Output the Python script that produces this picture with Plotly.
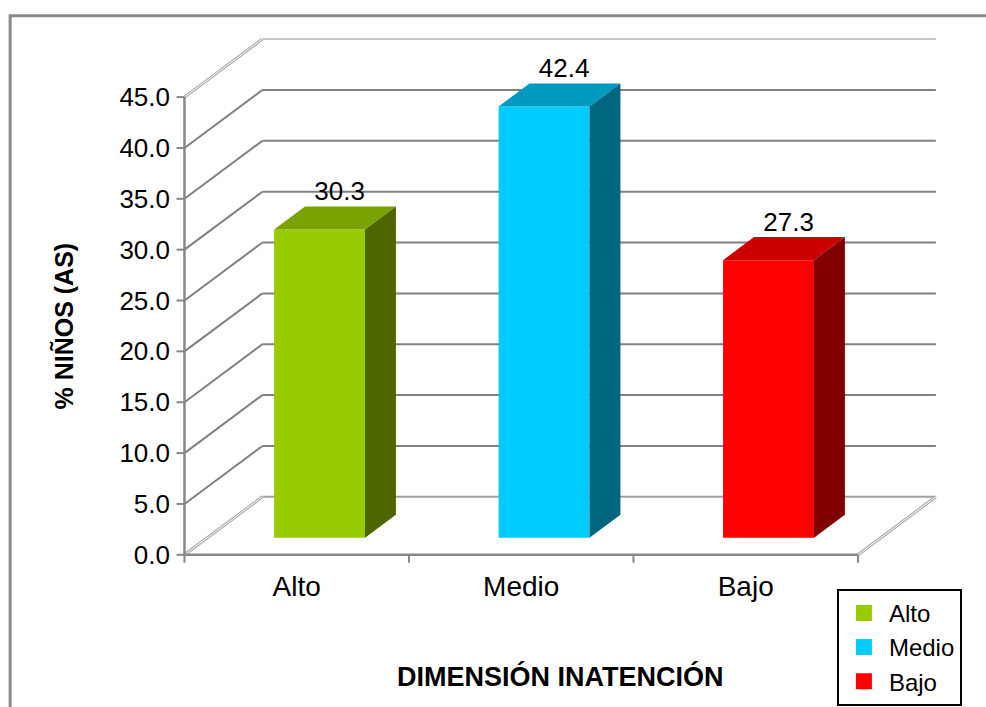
import plotly.graph_objects as go

# ---------------- data ----------------
categories = ["Alto", "Medio", "Bajo"]
values = [30.3, 42.4, 27.3]
front_colors = ["#99CC00", "#00CCFF", "#FF0000"]
top_colors = ["#7AA300", "#0099BF", "#CC0000"]
side_colors = ["#4D6600", "#006680", "#800000"]
y_ticks = [0, 5, 10, 15, 20, 25, 30, 35, 40, 45]
y_ticklabels = [f"{v:.1f}" for v in y_ticks]
x_title = "DIMENSIÓN INATENCIÓN"
y_title = "% NIÑOS (AS)"

# ---------------- 3D geometry (axis units) ----------------
N = len(categories)
YMAX = y_ticks[-1]
DEPTH_X = 0.347      # depth offset in category units
DEPTH_Y = 5.70       # depth offset in value units
BAR_W = 0.405
F1, F2 = 0.293, 0.69  # depth fraction of bar front/back
X_RANGE = [-0.06, N + 0.37]
Y_RANGE = [-1.2, 51.4]

W, H = 986, 707
L, R, T, B = 170.5, 941.2, 31.7, 567.2
PX_X = (R - L) / (X_RANGE[1] - X_RANGE[0])
PX_Y = (B - T) / (Y_RANGE[1] - Y_RANGE[0])


def px2paper_x(px):
    return (px - L) / (R - L)


def px2paper_y(py):
    return (B - py) / (B - T)


FONT = "Liberation Sans, Arial, sans-serif"
GRID = "#808080"
LIGHT = "#a8a8a8"

fig = go.Figure()


def line(xs, ys, color, width):
    fig.add_trace(go.Scatter(x=xs, y=ys, mode="lines",
                             line=dict(color=color, width=width),
                             hoverinfo="skip", showlegend=False))


def double_line(xs, ys):
    line(xs, ys, LIGHT, 3)
    line(xs, ys, "#ffffff", 1)


# back wall grid lines and left wall diagonals
for v in y_ticks:
    if v == YMAX:
        line([DEPTH_X, N + DEPTH_X], [v + DEPTH_Y, v + DEPTH_Y], "#c4c4c4", 2)
        double_line([0, DEPTH_X], [v, v + DEPTH_Y])
    elif v == 0:
        line([DEPTH_X, N + DEPTH_X], [DEPTH_Y, DEPTH_Y], "#a0a0a0", 2)
        double_line([0, DEPTH_X], [0, DEPTH_Y])
    else:
        line([DEPTH_X, N + DEPTH_X], [v + DEPTH_Y, v + DEPTH_Y], GRID, 2)
        line([0, DEPTH_X], [v, v + DEPTH_Y], GRID, 2)

# floor right edge
double_line([N, N + DEPTH_X], [0, DEPTH_Y])

# front axes
line([0, 0], [0, YMAX], "#888888", 2.5)
line([0, N], [0, 0], "#888888", 2.5)
tick_x = 8 / PX_X
tick_y = 8 / PX_Y
for v in y_ticks:
    line([-tick_x, 0], [v, v], "#888888", 2)
for i in range(N + 1):
    line([i, i], [0, -tick_y], "#888888", 2)

# bars
a1, b1 = F1 * DEPTH_X, F1 * DEPTH_Y
a2, b2 = F2 * DEPTH_X, F2 * DEPTH_Y
for i, (cat, v) in enumerate(zip(categories, values)):
    c = i + 0.5
    xl, xr = c - BAR_W / 2, c + BAR_W / 2
    faces = [
        ([xl + a1, xr + a1, xr + a1, xl + a1, xl + a1],
         [b1, b1, v + b1, v + b1, b1], front_colors[i]),
        ([xl + a1, xr + a1, xr + a2, xl + a2, xl + a1],
         [v + b1, v + b1, v + b2, v + b2, v + b1], top_colors[i]),
        ([xr + a1, xr + a2, xr + a2, xr + a1, xr + a1],
         [b1, b2, v + b2, v + b1, b1], side_colors[i]),
    ]
    for xs, ys, col in faces:
        fig.add_trace(go.Scatter(x=xs, y=ys, mode="lines", fill="toself",
                                 fillcolor=col, line=dict(width=0, color=col),
                                 hoverinfo="skip", showlegend=False))

# data labels
fig.add_trace(go.Scatter(
    x=[i + 0.5 + 0.55 * DEPTH_X for i in range(N)],
    y=[v + b2 for v in values],
    mode="text", text=[f"{v:.1f}" for v in values],
    textposition="top center", cliponaxis=False,
    textfont=dict(family=FONT, size=26, color="#000000"),
    hoverinfo="skip", showlegend=False))

# legend entries
for cat, col in zip(categories, front_colors):
    fig.add_trace(go.Scatter(x=[None], y=[None], mode="markers", name=cat,
                             marker=dict(symbol="square", size=16, color=col)))

fig.update_layout(
    width=W, height=H, autosize=False,
    margin=dict(l=L, r=W - R, t=T, b=H - B, pad=0, autoexpand=False),
    paper_bgcolor="white", plot_bgcolor="white",
    font=dict(family=FONT, size=26, color="#000000"),
    xaxis=dict(range=X_RANGE, showgrid=False, zeroline=False, showline=False,
               tickmode="array", tickvals=[i + 0.5 for i in range(N)],
               ticktext=categories, ticks="", tickfont=dict(size=28),
               fixedrange=True, automargin=False),
    yaxis=dict(range=Y_RANGE, showgrid=False, zeroline=False, showline=False,
               tickmode="array", tickvals=y_ticks, ticktext=y_ticklabels,
               ticks="", tickfont=dict(size=26), fixedrange=True,
               automargin=False),
    legend=dict(x=px2paper_x(837), y=px2paper_y(589), xanchor="left",
                yanchor="top", bordercolor="#000000", borderwidth=2,
                bgcolor="white", font=dict(size=24), itemwidth=40),
    showlegend=True,
    annotations=[
        dict(text=f"<b>{y_title}</b>", textangle=-90, xref="paper", yref="y",
             x=px2paper_x(63), y=YMAX / 2, xanchor="center", yanchor="middle",
             showarrow=False, font=dict(size=25)),
        dict(text=f"<b>{x_title}</b>", xref="x", yref="paper",
             x=(N + DEPTH_X) / 2, y=px2paper_y(677), xanchor="center",
             yanchor="middle", showarrow=False, font=dict(size=27)),
    ],
    shapes=[dict(type="rect", xref="paper", yref="paper",
                 x0=px2paper_x(9.5), y0=px2paper_y(730),
                 x1=px2paper_x(1010), y1=px2paper_y(15.5),
                 line=dict(color="#8a8a8a", width=3), fillcolor="rgba(0,0,0,0)",
                 layer="below")],
)

fig.write_html("out.html", config={"displayModeBar": False})
